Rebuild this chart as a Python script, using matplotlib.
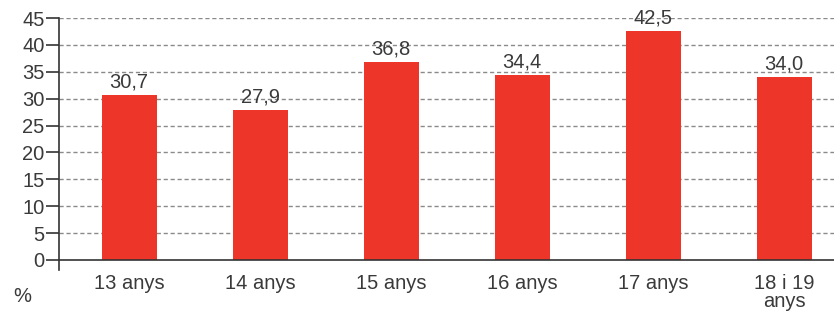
import matplotlib.pyplot as plt

categories = ['13 anys', '14 anys', '15 anys', '16 anys', '17 anys', '18 i 19\nanys']
values = [30.7, 27.9, 36.8, 34.4, 42.5, 34.0]
value_labels = ['30,7', '27,9', '36,8', '34,4', '42,5', '34,0']
y_ticks = [0, 5, 10, 15, 20, 25, 30, 35, 40, 45]

plt.rcParams['font.family'] = ['Liberation Sans', 'DejaVu Sans']
text_color = '#3a3a3a'
bar_color = '#ee3529'
fs = 14.5

fig = plt.figure(figsize=(8.34, 3.12), dpi=100)
ax = fig.add_axes([59 / 834, 42 / 312, 1 - 59 / 834, (270 - 18) / 312])

x = list(range(len(categories)))
ax.bar(x, values, width=0.42, color=bar_color, zorder=3)

for xi, v, lab in zip(x, values, value_labels):
    ax.annotate(lab, (xi, v), xytext=(0, 2.5), textcoords='offset points',
                ha='center', va='bottom', fontsize=fs, color=text_color)

ax.set_ylim(-1.86, 45)
ax.set_xlim(-0.535, 5.38)

# grid lines
for t in y_ticks[1:]:
    ax.axhline(t, color='#8a8a8a', linestyle=(0, (3, 2)), linewidth=1, zorder=1)
ax.axhline(0, color='#333333', linewidth=1.2, zorder=4)

ax.set_yticks(y_ticks)
ax.set_yticklabels([str(t) for t in y_ticks])
ax.tick_params(axis='y', length=9.5, width=1.2, color='#333333', pad=1,
               labelsize=fs, labelcolor=text_color)
ax.set_xticks(x)
ax.set_xticklabels(categories, linespacing=0.95)
ax.tick_params(axis='x', length=0, pad=3, labelsize=fs, labelcolor=text_color)

for s in ['top', 'right', 'bottom']:
    ax.spines[s].set_visible(False)
ax.spines['left'].set_color('#333333')
ax.spines['left'].set_linewidth(1.2)

fig.text(22 / 834, 1 - 296 / 312, '%', ha='center', va='center',
         fontsize=fs, color=text_color)

fig.savefig('out.png', dpi=100)
